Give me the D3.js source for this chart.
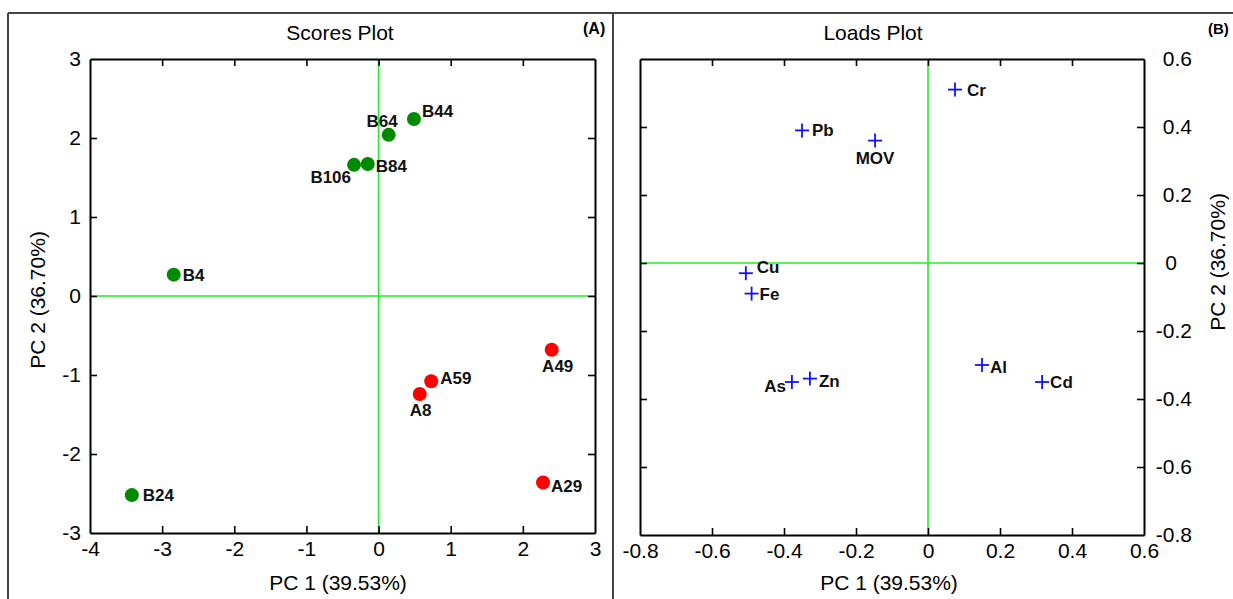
<!DOCTYPE html>
<html>
<head>
<meta charset="utf-8">
<script src="https://cdn.jsdelivr.net/npm/d3@7"></script>
<style>
  html, body { margin: 0; padding: 0; background: #fff; }
  svg { display: block; font-family: "Liberation Sans", Arial, sans-serif; }
  .axis path, .axis line { stroke: #000; }
  .axis text { font-size: 21px; fill: #000; font-family: "Liberation Sans", Arial, sans-serif; }
</style>
</head>
<body>
<svg id="chart" width="1233" height="599"></svg>
<script>
// PCA scores (samples) on PC1 / PC2
const scoreNames = ["B44", "B64", "B84", "B106", "B4", "B24", "A49", "A59", "A8", "A29"];
const scorePC1 = [0.49, 0.14, -0.15, -0.34, -2.84, -3.42, 2.40, 0.73, 0.57, 2.28];
const scorePC2 = [2.24, 2.04, 1.67, 1.66, 0.27, -2.52, -0.68, -1.08, -1.24, -2.36];
const scoreGroup = ["B", "B", "B", "B", "B", "B", "A", "A", "A", "A"];

// PCA loadings (variables) on PC1 / PC2
const loadNames = ["Cr", "Pb", "MOV", "Cu", "Fe", "As", "Zn", "Al", "Cd"];
const loadPC1 = [0.075, -0.35, -0.147, -0.506, -0.49, -0.378, -0.328, 0.15, 0.317];
const loadPC2 = [0.51, 0.39, 0.36, -0.03, -0.09, -0.35, -0.34, -0.30, -0.35];

// Tick values
const scoreXTicks = [-4, -3, -2, -1, 0, 1, 2, 3];
const scoreYTicks = [-3, -2, -1, 0, 1, 2, 3];
const loadXTicks = [-0.8, -0.6, -0.4, -0.2, 0, 0.2, 0.4, 0.6];
const loadYTicks = [-0.8, -0.6, -0.4, -0.2, 0, 0.2, 0.4, 0.6];

const xTitle = "PC 1 (39.53%)";
const yTitle = "PC 2 (36.70%)";

// label placement for each point: [dx, dy, anchor]
const scoreLabelPos = {
  B44: [8, -2, "start"], B64: [9, -8, "end"], B84: [8, 8, "start"], B106: [-3, 18, "end"],
  B4: [9, 6, "start"], B24: [11, 6, "start"], A49: [6, 22, "middle"], A59: [9, 3, "start"],
  A8: [1, 22, "middle"], A29: [8, 10, "start"]
};
const loadLabelPos = {
  Cr: [12, 6, "start"], Pb: [10, 6, "start"], MOV: [0, 23, "middle"], Cu: [11, 0, "start"],
  Fe: [8, 6, "start"], As: [-6, 10, "end"], Zn: [9, 8, "start"], Al: [8, 8, "start"], Cd: [8, 6, "start"]
};

const svg = d3.select("#chart");
const GREEN = "#22ee22";
const TICK = 7;

// outer panel frames
const frame = svg.append("g").attr("stroke", "#444").attr("stroke-width", 2).attr("fill", "none");
frame.append("line").attr("x1", 8).attr("x2", 1233).attr("y1", 13).attr("y2", 13);
frame.append("line").attr("x1", 8).attr("x2", 8).attr("y1", 13).attr("y2", 599);
frame.append("line").attr("x1", 613).attr("x2", 613).attr("y1", 13).attr("y2", 599);

function drawAxesBox(g, x, y, xTicks, yTicks, fmt, rightLabels) {
  const [x0, x1] = x.range();
  const [y0, y1] = y.range(); // y0 bottom, y1 top
  // crosshair at origin
  g.append("line").attr("x1", x0).attr("x2", x1).attr("y1", y(0)).attr("y2", y(0))
    .attr("stroke", GREEN).attr("stroke-width", 1.6);
  g.append("line").attr("x1", x(0)).attr("x2", x(0)).attr("y1", y0).attr("y2", y1)
    .attr("stroke", GREEN).attr("stroke-width", 1.6);

  const bottom = g.append("g").attr("class", "axis").attr("transform", `translate(0,${y0})`)
    .call(d3.axisBottom(x).tickValues(xTicks).tickFormat(fmt).tickSizeInner(-TICK).tickSizeOuter(0).tickPadding(8));
  const top = g.append("g").attr("class", "axis").attr("transform", `translate(0,${y1})`)
    .call(d3.axisTop(x).tickValues(xTicks).tickFormat("").tickSizeInner(-TICK).tickSizeOuter(0));
  const left = g.append("g").attr("class", "axis").attr("transform", `translate(${x0},0)`)
    .call(d3.axisLeft(y).tickValues(yTicks).tickFormat(rightLabels ? "" : fmt).tickSizeInner(-TICK).tickSizeOuter(0).tickPadding(9));
  const right = g.append("g").attr("class", "axis").attr("transform", `translate(${x1},0)`)
    .call(d3.axisRight(y).tickValues(yTicks).tickFormat(rightLabels ? fmt : "").tickSizeInner(-TICK).tickSizeOuter(0).tickPadding(12));
  [bottom, top, left, right].forEach(a => {
    a.selectAll(".tick line").attr("stroke-width", 1.6);
    a.select(".domain").attr("stroke-width", 2);
  });
  // no tick marks on the frame corners
  [bottom, top].forEach(a => a.selectAll(".tick").filter(d => d === xTicks[0] || d === xTicks[xTicks.length - 1]).select("line").remove());
  [left, right].forEach(a => a.selectAll(".tick").filter(d => d === yTicks[0] || d === yTicks[yTicks.length - 1]).select("line").remove());
  return { bottom, left, right };
}

// ---------- Scores plot ----------
const sx = d3.scaleLinear().domain([-4, 3]).range([90, 595]);
const sy = d3.scaleLinear().domain([-3, 3]).range([533, 59]);
const gS = svg.append("g");
const fmtS = d => String(d);
drawAxesBox(gS, sx, sy, scoreXTicks, scoreYTicks, fmtS, false);

gS.append("text").attr("x", 340).attr("y", 40).attr("text-anchor", "middle")
  .attr("font-size", 21).text("Scores Plot");
gS.append("text").attr("x", 583).attr("y", 34).attr("font-size", 16).attr("font-weight", "bold").text("(A)");
gS.append("text").attr("x", 338).attr("y", 590).attr("text-anchor", "middle").attr("font-size", 21).text(xTitle);
gS.append("text").attr("transform", "translate(45,300) rotate(-90)").attr("text-anchor", "middle")
  .attr("font-size", 21).text(yTitle);

const scoreData = scoreNames.map((n, i) => ({ name: n, x: scorePC1[i], y: scorePC2[i], g: scoreGroup[i] }));
gS.selectAll("circle.pt").data(scoreData).join("circle").attr("class", "pt")
  .attr("cx", d => sx(d.x)).attr("cy", d => sy(d.y)).attr("r", 7)
  .attr("fill", d => d.g === "A" ? "#ff0000" : "#008a00");
gS.selectAll("text.lbl").data(scoreData).join("text").attr("class", "lbl")
  .attr("x", d => sx(d.x) + scoreLabelPos[d.name][0])
  .attr("y", d => sy(d.y) + scoreLabelPos[d.name][1])
  .attr("text-anchor", d => scoreLabelPos[d.name][2])
  .attr("font-size", 17).attr("font-weight", "bold").attr("fill", "#111").text(d => d.name);

// ---------- Loads plot ----------
const lx = d3.scaleLinear().domain([-0.8, 0.6]).range([640, 1144]);
const ly = d3.scaleLinear().domain([-0.8, 0.6]).range([535, 59]);
const gL = svg.append("g");
const fmtL = d => d === 0 ? "0" : d.toFixed(1);
const axL = drawAxesBox(gL, lx, ly, loadXTicks, loadYTicks, fmtL, true);
// right-hand labels line up on the decimal point
axL.right.selectAll(".tick text").attr("text-anchor", "end")
  .attr("x", d => d === 0 ? 33 : 48);

gL.append("text").attr("x", 873).attr("y", 40).attr("text-anchor", "middle")
  .attr("font-size", 21).text("Loads Plot");
gL.append("text").attr("x", 1208).attr("y", 34).attr("font-size", 15).attr("font-weight", "bold").text("(B)");
gL.append("text").attr("x", 889).attr("y", 590).attr("text-anchor", "middle").attr("font-size", 21).text(xTitle);
gL.append("text").attr("transform", "translate(1225,262) rotate(-90)").attr("text-anchor", "middle")
  .attr("font-size", 21).text(yTitle);

const loadData = loadNames.map((n, i) => ({ name: n, x: loadPC1[i], y: loadPC2[i] }));
gL.selectAll("g.mk").data(loadData).join("g").attr("class", "mk")
  .attr("transform", d => `translate(${lx(d.x)},${ly(d.y)})`)
  .each(function () {
    const m = d3.select(this);
    m.append("line").attr("x1", -7).attr("x2", 7).attr("stroke", "#1010ff").attr("stroke-width", 1.8);
    m.append("line").attr("y1", -7).attr("y2", 7).attr("stroke", "#1010ff").attr("stroke-width", 1.8);
  });
gL.selectAll("text.lbl").data(loadData).join("text").attr("class", "lbl")
  .attr("x", d => lx(d.x) + loadLabelPos[d.name][0])
  .attr("y", d => ly(d.y) + loadLabelPos[d.name][1])
  .attr("text-anchor", d => loadLabelPos[d.name][2])
  .attr("font-size", 17).attr("font-weight", "bold").attr("fill", "#111").text(d => d.name);
</script>
</body>
</html>
